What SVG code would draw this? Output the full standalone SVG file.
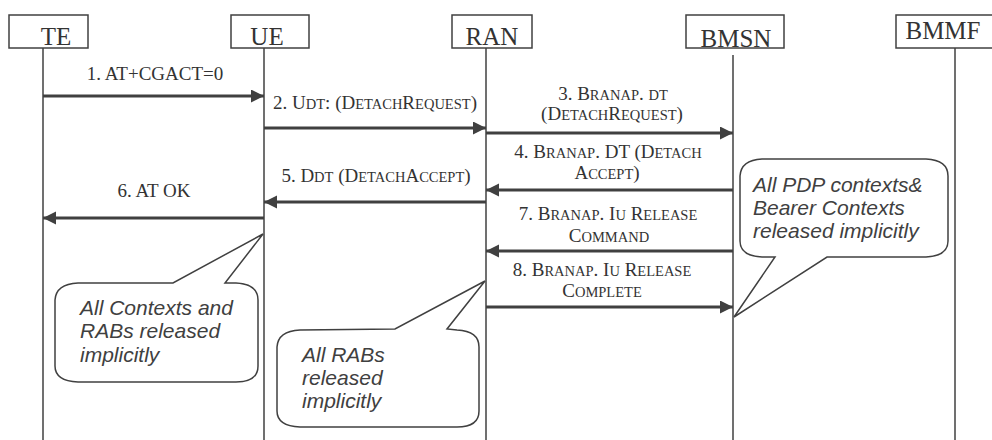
<svg xmlns="http://www.w3.org/2000/svg" width="992" height="440" viewBox="0 0 992 440">
<style>
.box{fill:#fff;stroke:#404040;stroke-width:1.5}
.life{stroke:#404040;stroke-width:1.5;fill:none}
.msg{stroke:#404040;stroke-width:3;fill:none;marker-end:url(#ah)}
.hdr{font-family:"Liberation Serif",serif;font-size:25px;fill:#333;text-anchor:middle}
.lbl{font-family:"Liberation Serif",serif;font-size:19px;fill:#333;text-anchor:middle}
.s{font-size:14.5px}
.call{fill:#fff;stroke:#404040;stroke-width:1.5}
.ct{font-family:"Liberation Sans",Arial,sans-serif;font-style:italic;font-size:21px;fill:#404040}
</style>
<defs>
<marker id="ah" markerUnits="userSpaceOnUse" markerWidth="14" markerHeight="14" refX="13" refY="6.5" orient="auto">
<path d="M0,0 L13,6.5 L0,13 Z" fill="#404040"/>
</marker>
</defs>
<rect width="992" height="440" fill="#fff"/>

<g id="TE">
<rect class="box" x="9" y="15" width="79" height="33"/>
<text class="hdr" x="56" y="45">TE</text>
<line class="life" x1="43" y1="48" x2="43" y2="440"/>
</g>
<g id="UE">
<rect class="box" x="231" y="15" width="78" height="33"/>
<text class="hdr" x="267" y="45">UE</text>
<line class="life" x1="264" y1="48" x2="264" y2="440"/>
</g>
<g id="RAN">
<rect class="box" x="452" y="15" width="80" height="33"/>
<text class="hdr" x="492" y="45">RAN</text>
<line class="life" x1="486" y1="48" x2="486" y2="440"/>
</g>
<g id="BMSN">
<rect class="box" x="686" y="15" width="98" height="33"/>
<text class="hdr" x="736" y="47">BMSN</text>
<line class="life" x1="733" y1="55" x2="733" y2="440"/>
</g>
<g id="BMMF">
<rect class="box" x="896" y="15" width="98" height="33"/>
<text class="hdr" x="943" y="39">BMMF</text>
<line class="life" x1="955" y1="48" x2="955" y2="440"/>
</g>

<g id="connectors">
<line class="msg" x1="43" y1="96" x2="264" y2="96"/>
<line class="msg" x1="264" y1="128" x2="486" y2="128"/>
<line class="msg" x1="486" y1="133" x2="733" y2="133"/>
<line class="msg" x1="733" y1="190" x2="486" y2="190"/>
<line class="msg" x1="486" y1="202" x2="264" y2="202"/>
<line class="msg" x1="264" y1="218" x2="43" y2="218"/>
<line class="msg" x1="733" y1="251" x2="486" y2="251"/>
<line class="msg" x1="486" y1="307" x2="733" y2="307"/>
</g>

<g id="labels">
<text class="lbl" x="155" y="80">1. AT+CGACT=0</text>
<text class="lbl" x="375" y="109">2. U<tspan class="s">DT</tspan>: (D<tspan class="s">ETACH</tspan>R<tspan class="s">EQUEST</tspan>)</text>
<text class="lbl" x="613" y="100">3. B<tspan class="s">RANAP</tspan>. <tspan class="s">DT</tspan></text>
<text class="lbl" x="612" y="120">(D<tspan class="s">ETACH</tspan>R<tspan class="s">EQUEST</tspan>)</text>
<text class="lbl" x="608" y="158">4. B<tspan class="s">RANAP</tspan>. DT (D<tspan class="s">ETACH</tspan></text>
<text class="lbl" x="607" y="179">A<tspan class="s">CCEPT</tspan>)</text>
<text class="lbl" x="376" y="182">5. D<tspan class="s">DT</tspan> (D<tspan class="s">ETACH</tspan>A<tspan class="s">CCEPT</tspan>)</text>
<text class="lbl" x="154" y="197">6. AT OK</text>
<text class="lbl" x="608" y="220">7. B<tspan class="s">RANAP</tspan>. I<tspan class="s">U</tspan> R<tspan class="s">ELEASE</tspan></text>
<text class="lbl" x="609" y="242">C<tspan class="s">OMMAND</tspan></text>
<text class="lbl" x="602" y="276">8. B<tspan class="s">RANAP</tspan>. I<tspan class="s">U</tspan> R<tspan class="s">ELEASE</tspan></text>
<text class="lbl" x="602" y="297">C<tspan class="s">OMPLETE</tspan></text>
</g>

<g id="callout-ue">
<path class="call" d="M78,283 L173,283 L263,234 L225,283 L236,283 Q258,284 258,300 L258,366 Q258,382 236,382 L78,382 Q55,381 55,366 L55,300 Q56,284 78,283 Z"/>
<text class="ct" x="80" y="315">All Contexts and</text>
<text class="ct" x="80" y="338">RABs released</text>
<text class="ct" x="80" y="362">implicitly</text>
</g>
<g id="callout-ran">
<path class="call" d="M300,330 L395,329 L485,281 L447,329 L457,330 Q479,331 479,347 L479,411 Q479,427 457,427 L300,427 Q277,426 277,411 L277,347 Q278,331 300,330 Z"/>
<text class="ct" x="302" y="362">All RABs</text>
<text class="ct" x="302" y="385">released</text>
<text class="ct" x="302" y="408">implicitly</text>
</g>
<g id="callout-bmsn">
<path class="call" d="M762,159 L926,159 Q948,160 948,176 L948,241 Q948,256 926,257 L827,257 L734,317 L775,257 L762,257 Q740,256 740,241 L740,176 Q741,160 762,159 Z"/>
<text class="ct" x="753" y="192">All PDP contexts&amp;</text>
<text class="ct" x="753" y="215">Bearer Contexts</text>
<text class="ct" x="753" y="238">released implicitly</text>
</g>
</svg>
